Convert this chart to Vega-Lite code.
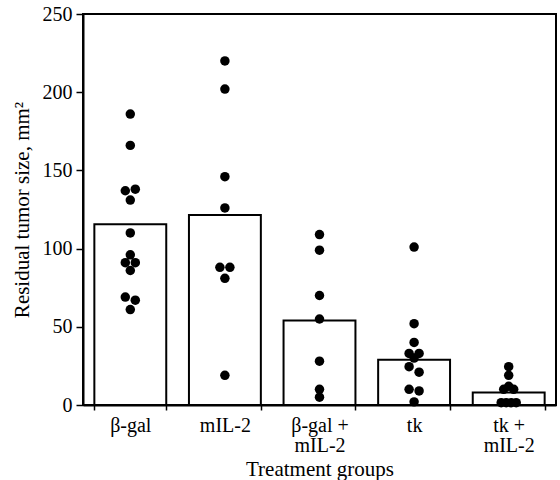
{
  "$schema": "https://vega.github.io/schema/vega-lite/v6.json",
  "width": 473,
  "height": 391,
  "autosize": "none",
  "padding": {"left": 83, "top": 14, "right": 4, "bottom": 75},
  "background": "white",
  "config": {
    "view": {"stroke": "black", "strokeWidth": 2},
    "font": "Liberation Serif",
    "axis": {
      "domainColor": "black", "domainWidth": 2, "tickColor": "black", "tickWidth": 1.5,
      "labelColor": "black", "titleColor": "black", "labelFont": "Liberation Serif", "titleFont": "Liberation Serif",
      "labelFontSize": 20, "titleFontSize": 21, "titleFontWeight": "normal", "grid": false
    }
  },
  "datasets": {
    "bars": [
      {"group": "β-gal", "mean": 115.5},
      {"group": "mIL-2", "mean": 121.5},
      {"group": "β-gal +|mIL-2", "mean": 54},
      {"group": "tk", "mean": 29},
      {"group": "tk +|mIL-2", "mean": 8}
    ],
    "points": [
      {"group": "β-gal", "size": 186, "slot": 0},
      {"group": "β-gal", "size": 166, "slot": 0},
      {"group": "β-gal", "size": 137, "slot": -1},
      {"group": "β-gal", "size": 138, "slot": 1},
      {"group": "β-gal", "size": 131, "slot": 0},
      {"group": "β-gal", "size": 110, "slot": 0},
      {"group": "β-gal", "size": 96, "slot": 0},
      {"group": "β-gal", "size": 91, "slot": -1},
      {"group": "β-gal", "size": 91, "slot": 1},
      {"group": "β-gal", "size": 86, "slot": 0},
      {"group": "β-gal", "size": 69, "slot": -1},
      {"group": "β-gal", "size": 67, "slot": 1},
      {"group": "β-gal", "size": 61, "slot": 0},
      {"group": "mIL-2", "size": 220, "slot": 0},
      {"group": "mIL-2", "size": 202, "slot": 0},
      {"group": "mIL-2", "size": 146, "slot": 0},
      {"group": "mIL-2", "size": 126, "slot": 0},
      {"group": "mIL-2", "size": 88, "slot": -1},
      {"group": "mIL-2", "size": 88, "slot": 1},
      {"group": "mIL-2", "size": 81, "slot": 0},
      {"group": "mIL-2", "size": 19, "slot": 0},
      {"group": "β-gal +|mIL-2", "size": 109, "slot": 0},
      {"group": "β-gal +|mIL-2", "size": 99, "slot": 0},
      {"group": "β-gal +|mIL-2", "size": 70, "slot": 0},
      {"group": "β-gal +|mIL-2", "size": 55, "slot": 0},
      {"group": "β-gal +|mIL-2", "size": 28, "slot": 0},
      {"group": "β-gal +|mIL-2", "size": 10, "slot": 0},
      {"group": "β-gal +|mIL-2", "size": 5, "slot": 0},
      {"group": "tk", "size": 101, "slot": 0},
      {"group": "tk", "size": 52, "slot": 0},
      {"group": "tk", "size": 40, "slot": 0},
      {"group": "tk", "size": 33, "slot": -1},
      {"group": "tk", "size": 33, "slot": 1},
      {"group": "tk", "size": 30, "slot": 0},
      {"group": "tk", "size": 24.5, "slot": -1},
      {"group": "tk", "size": 21, "slot": 1},
      {"group": "tk", "size": 10, "slot": -1},
      {"group": "tk", "size": 9, "slot": 1},
      {"group": "tk", "size": 2, "slot": 0},
      {"group": "tk +|mIL-2", "size": 24.5, "slot": 0},
      {"group": "tk +|mIL-2", "size": 19, "slot": 0},
      {"group": "tk +|mIL-2", "size": 12, "slot": 0},
      {"group": "tk +|mIL-2", "size": 10, "slot": -1},
      {"group": "tk +|mIL-2", "size": 10, "slot": 1},
      {"group": "tk +|mIL-2", "size": 1.5, "slot": -1.5},
      {"group": "tk +|mIL-2", "size": 1.5, "slot": -0.5},
      {"group": "tk +|mIL-2", "size": 1.5, "slot": 0.5},
      {"group": "tk +|mIL-2", "size": 1.5, "slot": 1.5}
    ]
  },
  "encoding": {
    "x": {
      "field": "group", "type": "nominal",
      "sort": ["β-gal", "mIL-2", "β-gal +|mIL-2", "tk", "tk +|mIL-2"],
      "scale": {"paddingInner": 0.24, "paddingOuter": 0.12},
      "axis": {
        "title": "Treatment groups", "labelAngle": 0, "tickBand": "extent", "tickSize": 5,
        "labelPadding": 5, "titlePadding": 3, "labelExpr": "split(datum.label, '|')", "labelLineHeight": 20
      }
    }
  },
  "layer": [
    {
      "data": {"name": "bars"},
      "mark": {"type": "bar", "fill": "white", "stroke": "black", "strokeWidth": 2},
      "encoding": {
        "y": {
          "field": "mean", "type": "quantitative",
          "scale": {"domain": [0, 250], "nice": false},
          "axis": {"title": "Residual tumor size, mm²", "values": [0, 50, 100, 150, 200, 250], "tickSize": 7, "labelPadding": 4, "titlePadding": 10}
        }
      }
    },
    {
      "data": {"name": "points"},
      "mark": {"type": "circle", "color": "black", "opacity": 1, "size": 90, "xOffset": {"expr": "datum.slot * 5"}},
      "encoding": {
        "y": {"field": "size", "type": "quantitative"}
      }
    }
  ]
}
